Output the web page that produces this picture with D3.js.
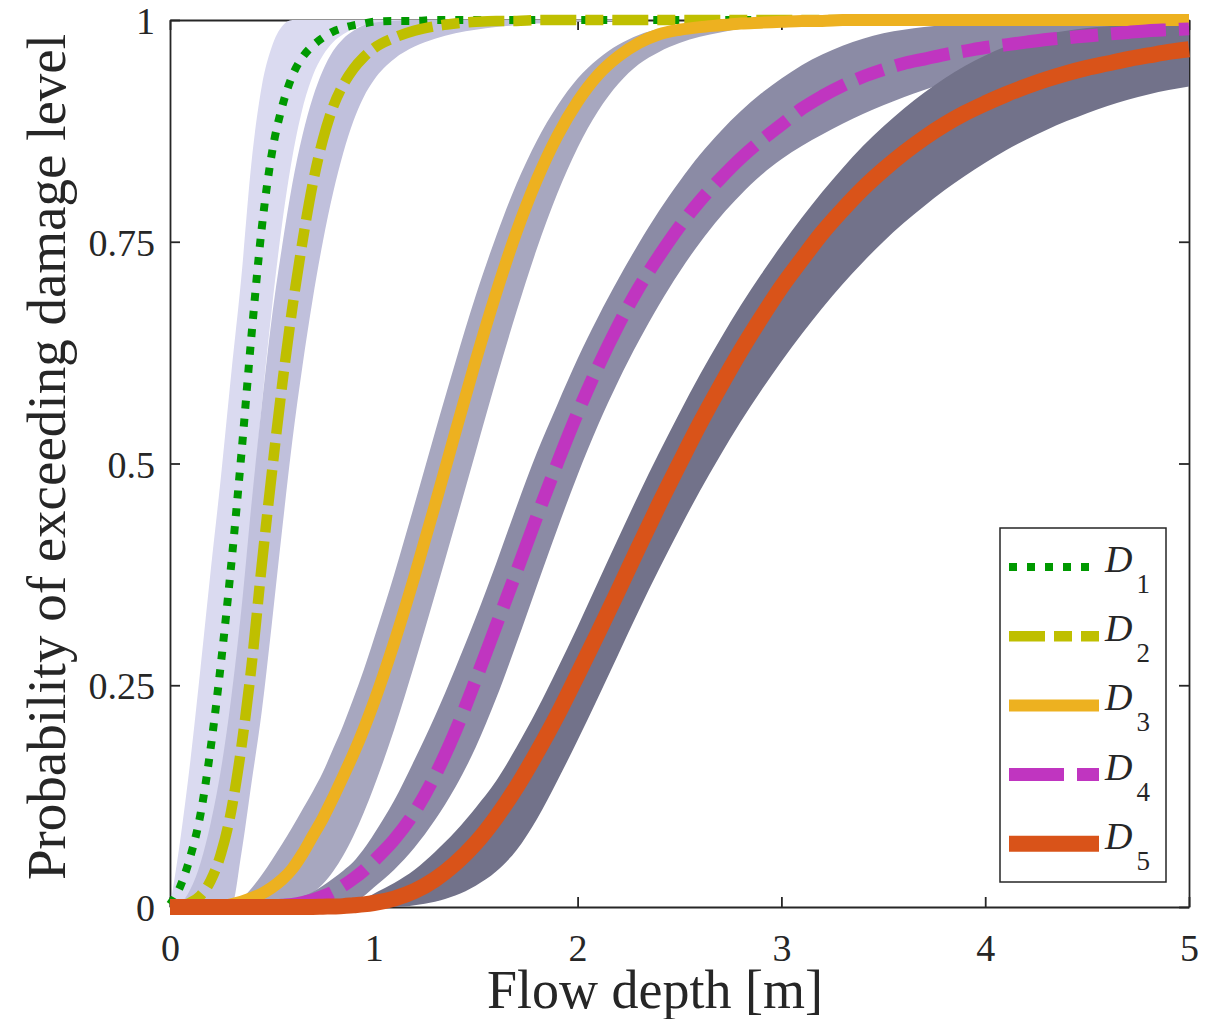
<!DOCTYPE html>
<html>
<head>
<meta charset="utf-8">
<script src="https://cdn.jsdelivr.net/npm/d3@7"></script>
<style>
  body { margin: 0; background: #fff; }
  svg text { font-family: "Liberation Serif", "Times New Roman", serif; fill: #262626; }
</style>
</head>
<body>
<div id="chart"></div>
<script>
const WIDTH = 1210;
const HEIGHT = 1019;
const LEFT = 170, RIGHT = 1189, TOP = 20, BOTTOM = 907;

// flow depth grid [m]
const depth = [0, 0.05, 0.1, 0.15, 0.2, 0.25, 0.3, 0.35, 0.4, 0.45, 0.5, 0.55, 0.6, 0.65, 0.7, 0.75, 0.8, 0.85, 0.9, 0.95, 1,
  1.1, 1.2, 1.3, 1.4, 1.5, 1.6, 1.7, 1.8, 1.9, 2,
  2.1, 2.2, 2.3, 2.4, 2.5, 2.6, 2.7, 2.8, 2.9, 3,
  3.1, 3.2, 3.3, 3.4, 3.5, 3.6, 3.7, 3.8, 3.9, 4,
  4.1, 4.2, 4.3, 4.4, 4.5, 4.6, 4.7, 4.8, 4.9, 5];

// exceedance probability
const probD1 = [0.003, 0.023, 0.057, 0.105, 0.18, 0.275, 0.385, 0.51, 0.645, 0.765, 0.85, 0.902, 0.937, 0.958, 0.971, 0.98, 0.987, 0.991, 0.994, 0.996, 0.998,
  0.999, 0.999, 1, 1, 1, 1, 1, 1, 1, 1,
  1, 1, 1, 1, 1, 1, 1, 1, 1, 1,
  1, 1, 1, 1, 1, 1, 1, 1, 1, 1,
  1, 1, 1, 1, 1, 1, 1, 1, 1, 1];
const bandHiD1 = [0, 0.075, 0.165, 0.27, 0.38, 0.485, 0.6, 0.71, 0.84, 0.925, 0.97, 0.993, 1, 1, 1, 1, 1, 1, 1, 1, 1,
  1, 1, 1, 1, 1, 1, 1, 1, 1, 1,
  1, 1, 1, 1, 1, 1, 1, 1, 1, 1,
  1, 1, 1, 1, 1, 1, 1, 1, 1, 1,
  1, 1, 1, 1, 1, 1, 1, 1, 1, 1];
const bandLoD1 = [0, 0, 0, 0.01, 0.045, 0.105, 0.195, 0.31, 0.44, 0.565, 0.675, 0.77, 0.845, 0.9, 0.937, 0.96, 0.975, 0.984, 0.99, 0.994, 0.996,
  0.998, 0.999, 1, 1, 1, 1, 1, 1, 1, 1,
  1, 1, 1, 1, 1, 1, 1, 1, 1, 1,
  1, 1, 1, 1, 1, 1, 1, 1, 1, 1,
  1, 1, 1, 1, 1, 1, 1, 1, 1, 1];

const probD2 = [0, 0.001, 0.005, 0.013, 0.03, 0.06, 0.108, 0.18, 0.272, 0.385, 0.49, 0.588, 0.675, 0.75, 0.815, 0.865, 0.902, 0.927, 0.945, 0.958, 0.968,
  0.98, 0.988, 0.993, 0.996, 0.998, 0.999, 0.999, 1, 1, 1,
  1, 1, 1, 1, 1, 1, 1, 1, 1, 1,
  1, 1, 1, 1, 1, 1, 1, 1, 1, 1,
  1, 1, 1, 1, 1, 1, 1, 1, 1, 1];
const bandHiD2 = [0, 0.004, 0.02, 0.05, 0.095, 0.155, 0.235, 0.335, 0.455, 0.565, 0.665, 0.745, 0.815, 0.87, 0.912, 0.943, 0.965, 0.979, 0.988, 0.994, 0.997,
  0.999, 1, 1, 1, 1, 1, 1, 1, 1, 1,
  1, 1, 1, 1, 1, 1, 1, 1, 1, 1,
  1, 1, 1, 1, 1, 1, 1, 1, 1, 1,
  1, 1, 1, 1, 1, 1, 1, 1, 1, 1];
const bandLoD2 = [0, 0, 0, 0, 0, 0, 0, 0.06, 0.14, 0.22, 0.32, 0.425, 0.525, 0.61, 0.685, 0.75, 0.805, 0.85, 0.886, 0.913, 0.932,
  0.956, 0.97, 0.979, 0.985, 0.989, 0.992, 0.994, 0.996, 0.997, 0.998,
  0.999, 0.999, 1, 1, 1, 1, 1, 1, 1, 1,
  1, 1, 1, 1, 1, 1, 1, 1, 1, 1,
  1, 1, 1, 1, 1, 1, 1, 1, 1, 1];

const probD3 = [0, 0, 0, 0, 0, 0.001, 0.003, 0.006, 0.01, 0.015, 0.022, 0.031, 0.043, 0.06, 0.08, 0.1, 0.123, 0.1475, 0.1726, 0.2002, 0.2304,
  0.298, 0.373, 0.453, 0.535, 0.616, 0.692, 0.761, 0.82, 0.869, 0.908,
  0.938, 0.959, 0.974, 0.984, 0.989, 0.992, 0.994, 0.996, 0.997, 0.998,
  0.999, 0.999, 1, 1, 1, 1, 1, 1, 1, 1,
  1, 1, 1, 1, 1, 1, 1, 1, 1, 1];
const bandHiD3 = [0, 0, 0, 0, 0, 0, 0.002, 0.009, 0.021, 0.036, 0.053, 0.071, 0.09, 0.11, 0.13, 0.152, 0.178, 0.205, 0.235, 0.267, 0.302,
  0.375, 0.454, 0.535, 0.614, 0.689, 0.756, 0.815, 0.864, 0.903, 0.934,
  0.956, 0.972, 0.983, 0.99, 0.994, 0.997, 0.998, 0.999, 1, 1,
  1, 1, 1, 1, 1, 1, 1, 1, 1, 1,
  1, 1, 1, 1, 1, 1, 1, 1, 1, 1];
const bandLoD3 = [0, 0, 0, 0, 0, 0, 0, 0, 0, 0, 0, 0.0015, 0.004, 0.009, 0.016, 0.026, 0.04, 0.058, 0.08, 0.106, 0.135,
  0.2, 0.274, 0.352, 0.432, 0.513, 0.594, 0.671, 0.742, 0.804, 0.856,
  0.897, 0.928, 0.95, 0.964, 0.974, 0.981, 0.986, 0.99, 0.993, 0.995,
  0.997, 0.998, 0.999, 0.9995, 1, 1, 1, 1, 1, 1,
  1, 1, 1, 1, 1, 1, 1, 1, 1, 1];

const probD4 = [0, 0, 0, 0, 0, 0, 0, 0, 0, 0.0005, 0.001, 0.002, 0.003, 0.005, 0.008, 0.012, 0.017, 0.024, 0.032, 0.041, 0.052,
  0.076, 0.107, 0.148, 0.198, 0.256, 0.317, 0.378, 0.44, 0.5, 0.557,
  0.609, 0.656, 0.698, 0.734, 0.767, 0.796, 0.821, 0.844, 0.864, 0.882,
  0.9, 0.914, 0.926, 0.936, 0.944, 0.951, 0.956, 0.961, 0.965, 0.969,
  0.972, 0.975, 0.978, 0.98, 0.982, 0.984, 0.986, 0.988, 0.989, 0.99];
const bandHiD4 = [0, 0, 0, 0, 0, 0, 0, 0, 0, 0.001, 0.002, 0.004, 0.008, 0.012, 0.017, 0.024, 0.032, 0.041, 0.051, 0.065, 0.082,
  0.12, 0.166, 0.215, 0.269, 0.326, 0.387, 0.451, 0.512, 0.566, 0.618,
  0.665, 0.708, 0.748, 0.785, 0.818, 0.848, 0.874, 0.897, 0.917, 0.934,
  0.949, 0.961, 0.971, 0.979, 0.985, 0.989, 0.992, 0.994, 0.996, 0.997,
  0.998, 0.999, 0.999, 1, 1, 1, 1, 1, 1, 1];
const bandLoD4 = [0, 0, 0, 0, 0, 0, 0, 0, 0, 0, 0, 0, 0, 0, 0, 0, 0, 0.002, 0.005, 0.012, 0.022,
  0.042, 0.067, 0.098, 0.135, 0.18, 0.235, 0.297, 0.362, 0.426, 0.487,
  0.543, 0.593, 0.638, 0.679, 0.716, 0.749, 0.778, 0.803, 0.825, 0.843,
  0.858, 0.871, 0.883, 0.894, 0.904, 0.913, 0.921, 0.929, 0.936, 0.942,
  0.948, 0.953, 0.958, 0.962, 0.965, 0.968, 0.971, 0.974, 0.976, 0.978];

const probD5 = [0, 0, 0, 0, 0, 0, 0, 0, 0, 0, 0, 0, 0, 0, 0, 0.0003, 0.0006, 0.001, 0.002, 0.003, 0.0045,
  0.0095, 0.018, 0.031, 0.049, 0.072, 0.101, 0.135, 0.174, 0.216, 0.262,
  0.309, 0.357, 0.406, 0.454, 0.5, 0.545, 0.587, 0.627, 0.664, 0.699,
  0.73, 0.76, 0.786, 0.81, 0.831, 0.85, 0.867, 0.882, 0.895, 0.906,
  0.916, 0.925, 0.933, 0.94, 0.946, 0.951, 0.956, 0.96, 0.964, 0.967];
const bandHiD5 = [0, 0, 0, 0, 0, 0, 0, 0, 0, 0, 0, 0, 0, 0, 0, 0, 0, 0.002, 0.005, 0.009, 0.015,
  0.027, 0.042, 0.062, 0.085, 0.112, 0.142, 0.18, 0.222, 0.268, 0.316,
  0.366, 0.416, 0.465, 0.512, 0.557, 0.6, 0.64, 0.678, 0.713, 0.746,
  0.777, 0.806, 0.833, 0.858, 0.88, 0.9, 0.918, 0.934, 0.948, 0.96,
  0.97, 0.978, 0.984, 0.988, 0.991, 0.993, 0.995, 0.996, 0.997, 0.998];
const bandLoD5 = [0, 0, 0, 0, 0, 0, 0, 0, 0, 0, 0, 0, 0, 0, 0, 0, 0, 0, 0, 0, 0,
  0, 0.002, 0.006, 0.013, 0.024, 0.04, 0.064, 0.099, 0.142, 0.188,
  0.236, 0.285, 0.334, 0.381, 0.426, 0.469, 0.509, 0.547, 0.582, 0.615,
  0.646, 0.675, 0.702, 0.727, 0.75, 0.771, 0.79, 0.808, 0.824, 0.839,
  0.853, 0.865, 0.876, 0.886, 0.895, 0.903, 0.91, 0.916, 0.921, 0.925];

const levels = ['1', '2', '3', '4', '5'];
const xTicks = [0, 1, 2, 3, 4, 5];
const xTickLabels = ['0', '1', '2', '3', '4', '5'];
const yTicks = [0, 0.25, 0.5, 0.75, 1];
const yTickLabels = ['0', '0.25', '0.5', '0.75', '1'];

// styles
const lineColors = ['#009900', '#bfbf00', '#edb120', '#c035c0', '#d95319'];
const bandColors = ['#dadaf0', '#c0c0dc', '#a7a7bf', '#8b8ba5', '#72728a'];
const lineWidths = [8, 10.5, 12, 13, 16];
const lineDashes = ['8,10', '36,9,18,9', null, '55,13,28,13', null];

const probs = [probD1, probD2, probD3, probD4, probD5];
const bandsHi = [bandHiD1, bandHiD2, bandHiD3, bandHiD4, bandHiD5];
const bandsLo = [bandLoD1, bandLoD2, bandLoD3, bandLoD4, bandLoD5];

const svg = d3.select('#chart').append('svg')
  .attr('width', WIDTH)
  .attr('height', HEIGHT);

const x = d3.scaleLinear().domain([0, 5]).range([LEFT, RIGHT]);
const y = d3.scaleLinear().domain([0, 1]).range([BOTTOM, TOP]);

// axes box with inward ticks on all sides
function styleAxis(g) {
  g.attr('font-family', null).attr('font-size', null);
  g.select('.domain').attr('stroke', '#262626').attr('stroke-width', 1.8);
  g.selectAll('.tick line').attr('stroke', '#262626').attr('stroke-width', 1.8);
  g.selectAll('.tick text').style('font-size', '38px');
}

svg.append('g')
  .attr('transform', `translate(0,${BOTTOM})`)
  .call(d3.axisBottom(x).tickValues(xTicks).tickFormat((d, i) => xTickLabels[i])
    .tickSizeInner(-10).tickSizeOuter(0).tickPadding(27))
  .call(styleAxis);

svg.append('g')
  .attr('transform', `translate(0,${TOP})`)
  .call(d3.axisTop(x).tickValues(xTicks).tickFormat('').tickSizeInner(-10).tickSizeOuter(0))
  .call(styleAxis);

svg.append('g')
  .attr('transform', `translate(${LEFT},0)`)
  .call(d3.axisLeft(y).tickValues(yTicks).tickFormat((d, i) => yTickLabels[i])
    .tickSizeInner(-10).tickSizeOuter(0).tickPadding(15))
  .call(styleAxis)
  .selectAll('.tick text').attr('dy', '0.36em');

svg.append('g')
  .attr('transform', `translate(${RIGHT},0)`)
  .call(d3.axisRight(y).tickValues(yTicks).tickFormat('').tickSizeInner(-10).tickSizeOuter(0))
  .call(styleAxis);

// confidence bands
const bandLayer = svg.append('g').attr('id', 'bands');
bandsHi.forEach((hi, k) => {
  const lo = bandsLo[k];
  const area = d3.area()
    .x((d, i) => x(depth[i]))
    .y0((d, i) => y(lo[i]))
    .y1((d, i) => y(hi[i]))
    .curve(d3.curveMonotoneX);
  bandLayer.append('path')
    .attr('d', area(depth))
    .attr('fill', bandColors[k])
    .attr('stroke', 'none');
});

// median fragility curves
const lineLayer = svg.append('g').attr('id', 'curves');
probs.forEach((p, k) => {
  const line = d3.line()
    .x((d, i) => x(depth[i]))
    .y((d, i) => y(p[i]))
    .curve(d3.curveMonotoneX);
  lineLayer.append('path')
    .attr('d', line(depth))
    .attr('fill', 'none')
    .attr('stroke', lineColors[k])
    .attr('stroke-width', lineWidths[k])
    .attr('stroke-dasharray', lineDashes[k]);
});

// axis titles
svg.append('text')
  .attr('x', 655)
  .attr('y', 1008)
  .attr('text-anchor', 'middle')
  .style('font-size', '54px')
  .text('Flow depth [m]');

svg.append('text')
  .attr('transform', 'translate(65,457) rotate(-90)')
  .attr('text-anchor', 'middle')
  .style('font-size', '55px')
  .text('Probability of exceeding damage level');

// legend
const legend = svg.append('g').attr('id', 'legend');
legend.append('rect')
  .attr('x', 1000).attr('y', 528)
  .attr('width', 166).attr('height', 354)
  .attr('fill', '#fff')
  .attr('stroke', '#262626')
  .attr('stroke-width', 1.5);

levels.forEach((lev, k) => {
  const ly = 567 + k * 69.2;
  legend.append('line')
    .attr('x1', 1009).attr('x2', 1099)
    .attr('y1', ly).attr('y2', ly)
    .attr('stroke', lineColors[k])
    .attr('stroke-width', lineWidths[k])
    .attr('stroke-dasharray', lineDashes[k]);
  const t = legend.append('text')
    .attr('x', 1105)
    .attr('y', ly + 5)
    .style('font-size', '38px');
  t.append('tspan').style('font-style', 'italic').text('D');
  t.append('tspan').attr('dx', 4).attr('dy', 21).style('font-size', '27px').text(lev);
});
</script>
</body>
</html>
